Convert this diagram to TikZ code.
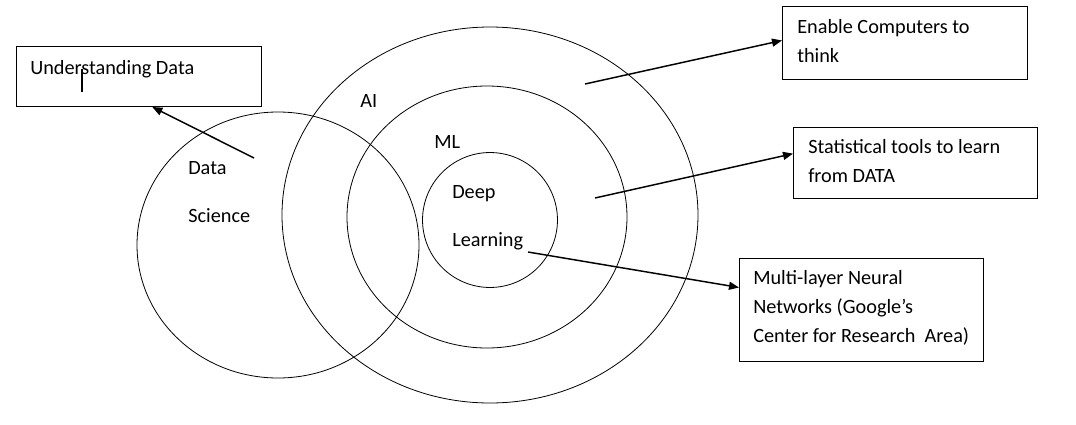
\documentclass[tikz,border=0pt]{standalone}
\usepackage{fontspec}
\setmainfont{Carlito}
\usetikzlibrary{arrows.meta}
\usetikzlibrary{calc}

\tikzset{
  box/.style={draw, line width=0.75pt, inner sep=0pt, anchor=north west},
  lbl/.style={anchor=base west, inner sep=0pt, align=left, font=\fontsize{15.2}{21.75}\selectfont},
  link/.style={line width=1.1pt, -{Triangle[length=7.5pt,width=6pt]}},
  ring/.style={line width=0.6pt},
}

\begin{document}
\begin{tikzpicture}[x=0.75pt,y=-0.75pt]
	\useasboundingbox (0,0) rectangle (1076,425);

	%Rings
	\draw[ring] (490,215) ellipse [x radius=156pt, y radius=141pt];
	\draw[ring] (487,217) ellipse [x radius=105pt, y radius=98.25pt];
	\draw[ring] (490,220) circle [radius=50.6pt];
	\draw[ring] (278,245) ellipse [x radius=105.75pt, y radius=99.75pt];

	%Ring labels
	\node[lbl] (ai) at (360,107) {AI};
	\node[lbl] (ml) at (434,148) {ML};
	\node[lbl] (deep) at (452,198) {Deep};
	\node[lbl] (learn) at (452,246) {Learning};
	\node[lbl] (data) at (188,174) {Data};
	\node[lbl] (sci) at (188,222) {Science};

	%Boxes
	\node[box, minimum width=183.75pt, minimum height=45pt] (und) at (16,46) {};
	\node[box, minimum width=183.75pt, minimum height=54.75pt] (think) at (782,6) {};
	\node[box, minimum width=183pt, minimum height=53.25pt] (stat) at (793,127) {};
	\node[box, minimum width=183pt, minimum height=77.25pt] (multi) at (739,258) {};

	%Box texts (base = last line)
	\node[lbl] (undtxt) at (30,74) {Understanding Data};
	\node[lbl] (thinktxt) at (797,62) {Enable Computers to\\think};
	\node[lbl] (stattxt) at (808,182) {Statistical tools to learn\\from DATA};
	\node[lbl] (multitxt) at (753,342) {Multi-layer Neural\\Networks (Google’s\\Center for Research\ \ Area)};
	\draw[line width=1.2pt] (82,69) -- (82,92);

	%Links
	\coordinate (dsfrom) at (254,158);
	\coordinate (aifrom) at (585,84);
	\coordinate (mlfrom) at (595,198);
	\coordinate (dlfrom) at (528,252);
	\draw[link] (dsfrom) -- ([xshift=10pt]und.south);
	\draw[link] (aifrom) -- ([yshift=1.9pt]think.west);
	\draw[link] (mlfrom) -- ([yshift=7pt]stat.west);
	\draw[link] (dlfrom) -- ([yshift=16.9pt]multi.west);

\end{tikzpicture}
\end{document}
